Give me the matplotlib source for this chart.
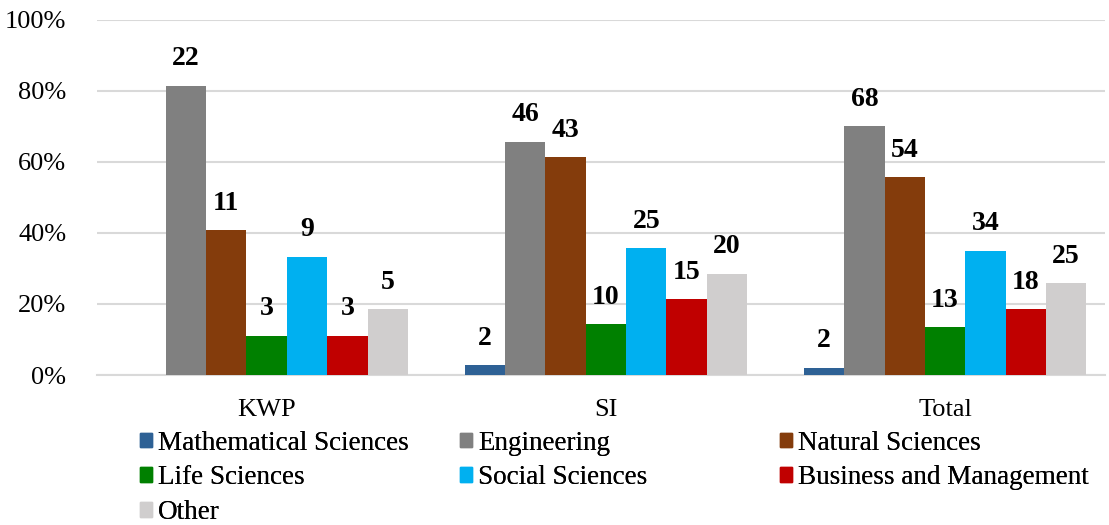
import matplotlib.pyplot as plt
from matplotlib.patches import Patch
from matplotlib.ticker import PercentFormatter
import numpy as np

plt.rcParams['font.family'] = ['Liberation Serif', 'DejaVu Serif']

groups = ['KWP', 'SI', 'Total']
group_sizes = [27, 70, 97]
fields = ['Mathematical Sciences', 'Engineering', 'Natural Sciences',
          'Life Sciences', 'Social Sciences', 'Business and Management', 'Other']
colors = ['#2E6195', '#808080', '#843C0C', '#008000', '#00B0F0', '#C00000', '#D0CECE']

# counts per field, one list per group
kwp_counts = [0, 22, 11, 3, 9, 3, 5]
si_counts = [2, 46, 43, 10, 25, 15, 20]
total_counts = [2, 68, 54, 13, 34, 18, 25]
counts = np.array([kwp_counts, si_counts, total_counts])
shares = counts / np.array(group_sizes)[:, None] * 100

fig = plt.figure(figsize=(11.09, 5.25), dpi=100)
ax = fig.add_axes([0.0875, 0.2857, 0.9085, 0.6763])

x = np.arange(len(groups))
width = 0.119
for i, (field, col) in enumerate(zip(fields, colors)):
    pos = x + (i - 3) * width
    ax.bar(pos, shares[:, i], width, color=col, label=field, zorder=3)
    for px, val, n in zip(pos, shares[:, i], counts[:, i]):
        if n > 0:
            ax.text(px, val + 4, str(n), ha='center', va='bottom',
                    fontsize=20, fontweight='bold')

ax.set_ylim(0, 100)
ax.set_xlim(-0.5, 2.47)
ax.set_yticks(np.arange(0, 101, 20))
ax.yaxis.set_major_formatter(PercentFormatter(decimals=0))
ax.set_xticks(x)
ax.set_xticklabels(groups)
ax.tick_params(axis='both', length=0, labelsize=19)
ax.tick_params(axis='x', pad=17)
ax.tick_params(axis='y', pad=22)
ax.grid(axis='y', color='#D9D9D9', linewidth=1.5, zorder=0)
for side in ['top', 'right', 'left']:
    ax.spines[side].set_visible(False)
ax.spines['bottom'].set_color('#D9D9D9')
ax.spines['bottom'].set_linewidth(1.5)

# legend laid out row by row in three equal-width columns
col_x = [0.1265, 0.415, 0.7035]
for c, cx in enumerate(col_x):
    idx = list(range(c, len(fields), 3))
    leg = fig.legend([Patch(color=colors[i]) for i in idx], [fields[i] for i in idx],
                     loc='upper left', bbox_to_anchor=(cx, 0.18), frameon=False,
                     fontsize=19.5, handlelength=0.45, handleheight=0.45,
                     handletextpad=0.2, labelspacing=0.36,
                     borderaxespad=0, borderpad=0)
    fig.add_artist(leg)

plt.savefig('out.png', dpi=100, facecolor='white')
